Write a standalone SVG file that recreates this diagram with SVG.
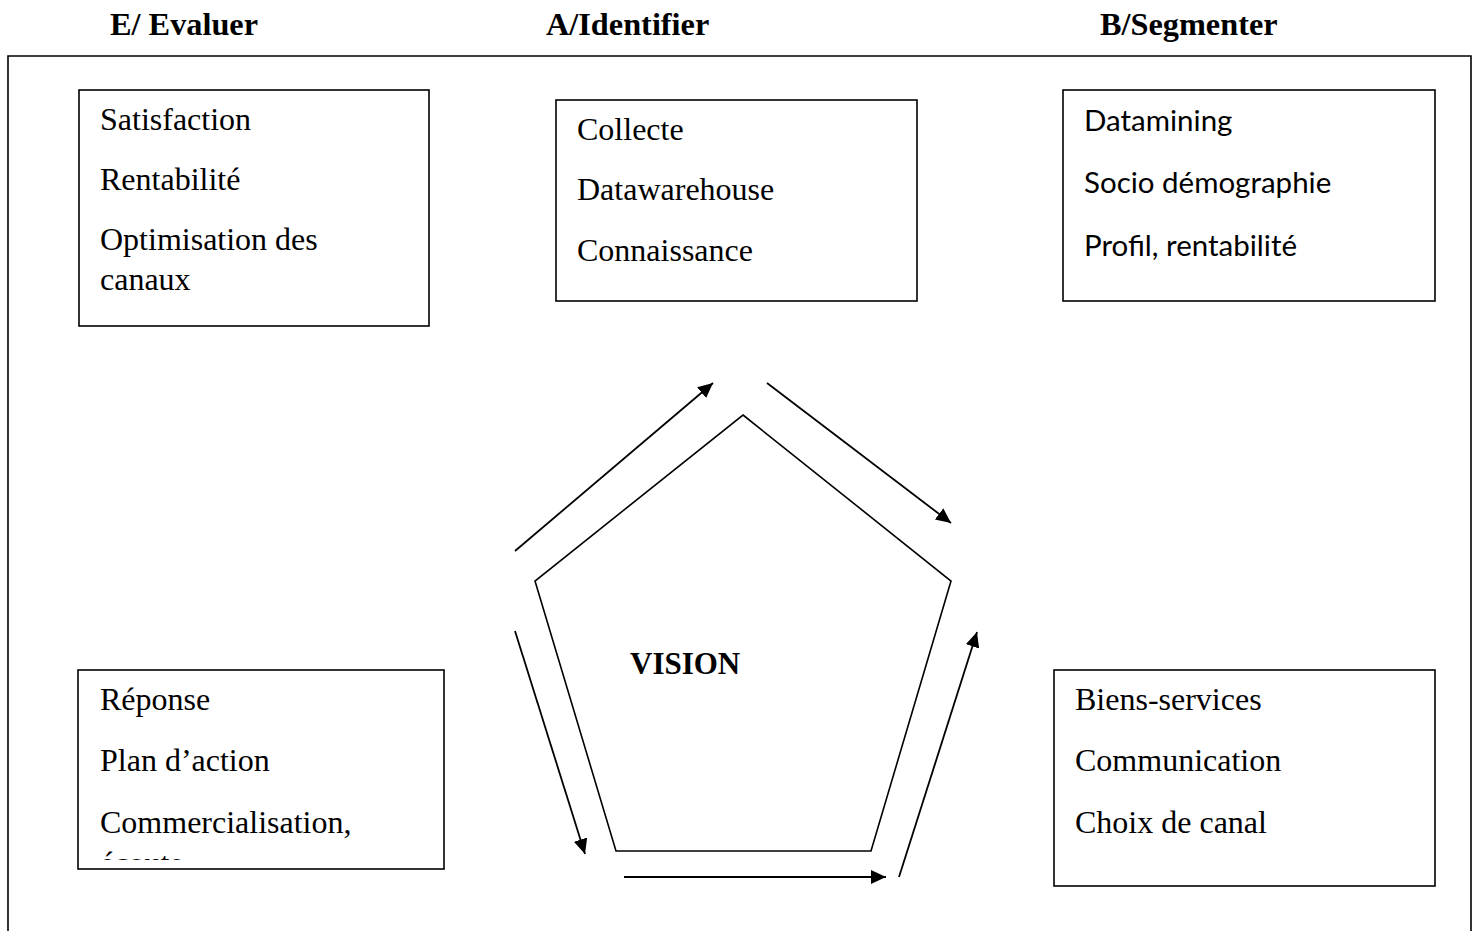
<svg xmlns="http://www.w3.org/2000/svg" width="1474" height="931" viewBox="0 0 1474 931">
<style>
.hd{font-family:"Liberation Serif","Times New Roman",serif;font-weight:bold;font-size:32.3px;fill:#000}
.vs{font-family:"Liberation Serif","Times New Roman",serif;font-weight:bold;font-size:31px;fill:#000}
.t{font-family:"Liberation Serif","Times New Roman",serif;font-size:32px;fill:#000}
.s{font-family:Lato,"Noto Sans",sans-serif;font-size:29.5px;fill:#000}
.box{fill:#fff;stroke:#000;stroke-width:1.6}
.ln{fill:none;stroke:#000;stroke-width:1.6}
.ar{fill:none;stroke:#000;stroke-width:1.8}
</style>
<defs>
<marker id="ah" markerUnits="userSpaceOnUse" markerWidth="17" markerHeight="15" refX="15" refY="7" orient="auto">
<path d="M0,0 L15,7 L0,14 z" fill="#000"/>
</marker>
<clipPath id="clipD"><rect x="79" y="671" width="364" height="189"/></clipPath>
</defs>
<rect width="1474" height="931" fill="#fff"/>
<g id="headers">
<text class="hd" x="110" y="35">E/ Evaluer</text>
<text class="hd" x="546" y="35">A/Identifier</text>
<text class="hd" x="1100" y="35">B/Segmenter</text>
</g>
<path id="frame" class="ln" d="M8,940 L8,56 L1471,56 L1471,940"/>
<g id="node-E">
<rect class="box" x="79" y="90" width="350" height="236"/>
<text class="t" x="100" y="130">Satisfaction</text>
<text class="t" x="100" y="190">Rentabilité</text>
<text class="t" x="100" y="250">Optimisation des</text>
<text class="t" x="100" y="290">canaux</text>
</g>
<g id="node-A">
<rect class="box" x="556" y="100" width="361" height="201"/>
<text class="t" x="577" y="140">Collecte</text>
<text class="t" x="577" y="200">Datawarehouse</text>
<text class="t" x="577" y="261">Connaissance</text>
</g>
<g id="node-B">
<rect class="box" x="1063" y="90" width="372" height="211"/>
<text class="s" x="1084" y="131">Datamining</text>
<text class="s" x="1084" y="193">Socio démographie</text>
<text class="s" x="1084" y="256">Profil, rentabilité</text>
</g>
<g id="node-D">
<rect class="box" x="78" y="670" width="366" height="199"/>
<text class="t" x="100" y="710">Réponse</text>
<text class="t" x="100" y="771">Plan d’action</text>
<text class="t" x="100" y="833">Commercialisation,</text>
<text class="t" x="100" y="874" clip-path="url(#clipD)">écoute</text>
</g>
<g id="node-C">
<rect class="box" x="1054" y="670" width="381" height="216"/>
<text class="t" x="1075" y="710">Biens-services</text>
<text class="t" x="1075" y="771">Communication</text>
<text class="t" x="1075" y="833">Choix de canal</text>
</g>
<g id="node-vision">
<polygon class="ln" points="743,415 951,581 871,851 616,851 535,581"/>
<text class="vs" x="630" y="674">VISION</text>
</g>
<g id="connectors">
<line class="ar" x1="515" y1="551" x2="713" y2="383" marker-end="url(#ah)"/>
<line class="ar" x1="767" y1="383" x2="951" y2="523" marker-end="url(#ah)"/>
<line class="ar" x1="899" y1="877" x2="977" y2="632" marker-end="url(#ah)"/>
<line class="ar" x1="624" y1="877" x2="886" y2="877" marker-end="url(#ah)"/>
<line class="ar" x1="515" y1="631" x2="585" y2="854" marker-end="url(#ah)"/>
</g>
</svg>
